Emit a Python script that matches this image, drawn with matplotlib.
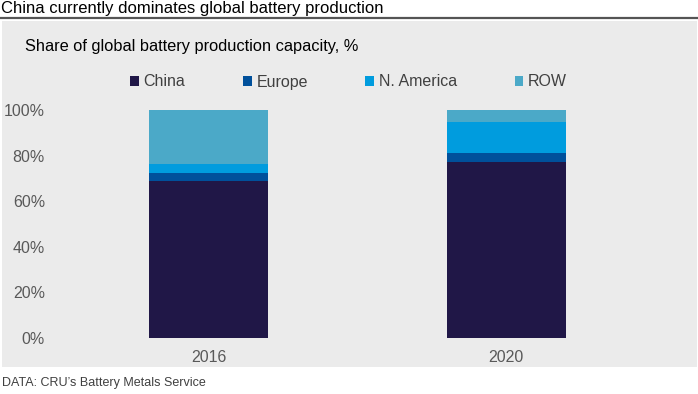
import numpy as np
import matplotlib
matplotlib.use("Agg")
import matplotlib.pyplot as plt
from matplotlib.patches import Rectangle, Patch
from matplotlib.lines import Line2D

plt.rcParams['font.family'] = ['Liberation Sans', 'DejaVu Sans']

#%% data (share of global battery production capacity, %)
years = ["2016", "2020"]
regions = ["China", "Europe", "N. America", "ROW"]
china = [68.7, 77.2]
europe = [3.8, 4.1]
namerica = [3.7, 13.4]
row = [23.8, 5.3]
yticks = [0, 20, 40, 60, 80, 100]

colors = {}
colors["China"] = '#201747'
colors["Europe"] = '#00509B'
colors["N. America"] = '#009CDE'
colors["ROW"] = '#4BA9C8'

W, H = 698, 394
fig = plt.figure(figsize=(W/100, H/100), dpi=100)

# grey panel + title rule
fig.patches.append(Rectangle((2/W, 1-367/H), 695/W, 346/H, transform=fig.transFigure,
                             facecolor='#EBEBEB', edgecolor='none', zorder=-5))
fig.lines.append(Line2D([0, 1], [1-18/H, 1-18/H], transform=fig.transFigure,
                        color='#555555', lw=1.6))
fig.text(1/W, 1-8/H, "China currently dominates global battery production",
         fontsize=12, color='black', va='center', ha='left')
fig.text(25/W, 1-47/H, "Share of global battery production capacity, %",
         fontsize=11.8, color='black', va='center', ha='left')

ax = fig.add_axes([60/W, 1-338/H, 595/W, 228/H])
ax.set_facecolor('none')
x = np.arange(len(years))
bottom = np.zeros(len(years))
for name, vals in zip(regions, [china, europe, namerica, row]):
    ax.bar(x, vals, width=0.4, bottom=bottom, color=colors[name], label=name, zorder=2)
    bottom = bottom + np.array(vals)

ax.set_xlim(-0.5, 1.5)
ax.set_ylim(0, 100)
ax.set_xticks(x)
ax.set_xticklabels(years)
ax.set_yticks(yticks)
ax.set_yticklabels([str(v)+"%" for v in yticks])
ax.tick_params(axis='both', length=0, labelsize=11.5, colors='#595959')
ax.tick_params(axis='y', pad=10.8)
ax.tick_params(axis='x', pad=8.5)
for s in ax.spines.values():
    s.set_visible(False)

handles = [Patch(facecolor=colors[r], edgecolor='none', label=r) for r in regions]
fig.legend(handles=handles, loc='center left', bbox_to_anchor=(130/W, 1-82/H),
           ncol=4, frameon=False, fontsize=11.5, borderpad=0, borderaxespad=0,
           handlelength=0.55, handleheight=0.55, handletextpad=0.3,
           columnspacing=3.6, labelcolor='#404040')

fig.text(2/W, 1-383/H, "DATA: CRU\u2019s Battery Metals Service",
         fontsize=9, color='#404040', va='center', ha='left')

fig.savefig("out.png", dpi=100)
